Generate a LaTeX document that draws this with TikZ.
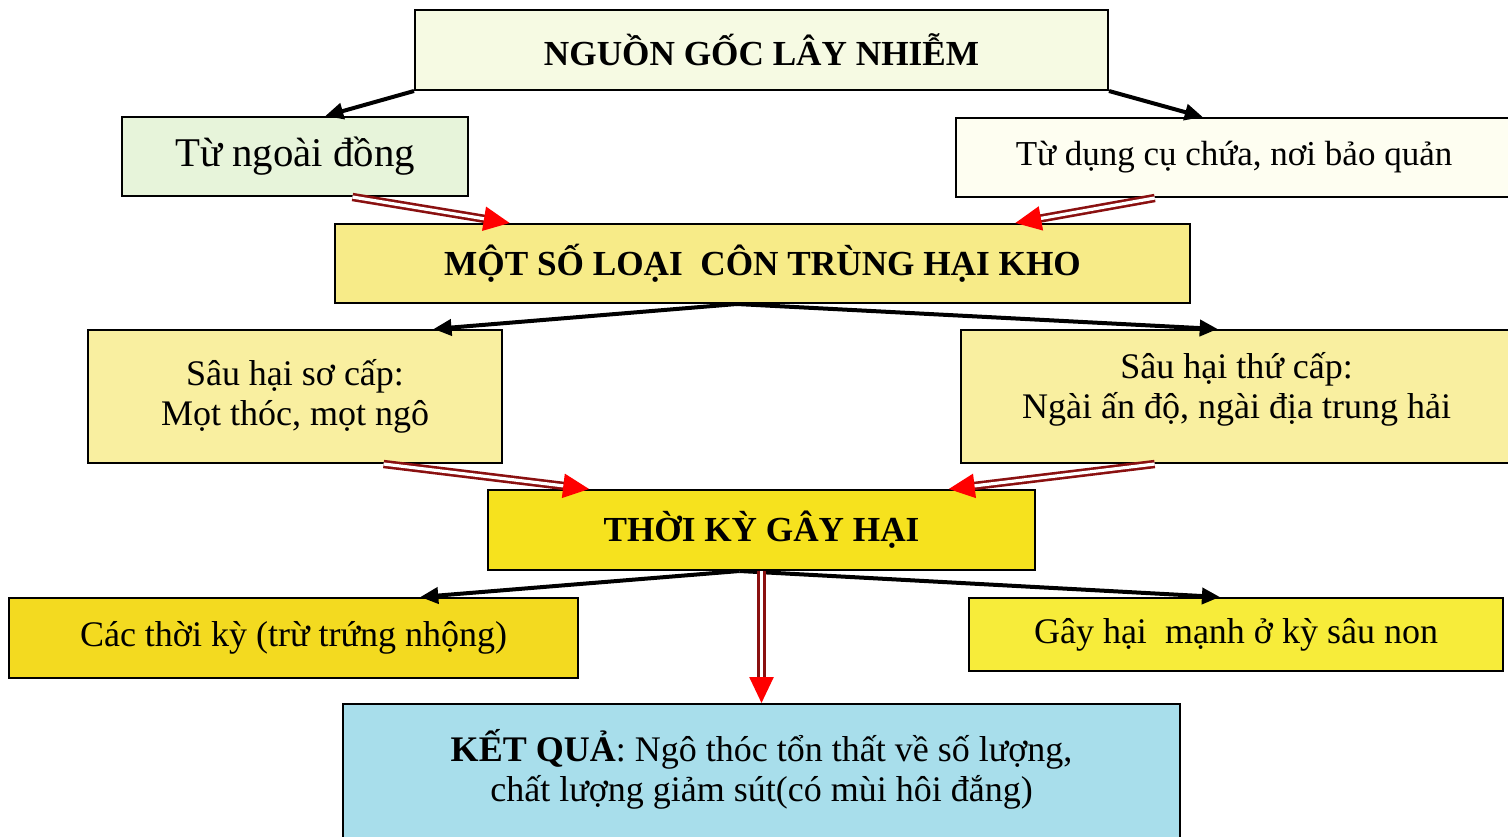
\documentclass[tikz,border=0pt]{standalone}
\usepackage{fontspec}
\setmainfont{Liberation Serif}
\usetikzlibrary{arrows.meta, calc}
\definecolor{srcbg}{HTML}{F6FAE3}
\definecolor{fieldbg}{HTML}{E7F4DA}
\definecolor{storebg}{HTML}{FEFEF1}
\definecolor{insectbg}{HTML}{F7EB88}
\definecolor{pestbg}{HTML}{F9EFA0}
\definecolor{periodbg}{HTML}{F6E21E}
\definecolor{stagebg}{HTML}{F3DA20}
\definecolor{strongbg}{HTML}{F7EC3A}
\definecolor{resultbg}{HTML}{A8DEEB}
\definecolor{darkred}{HTML}{8A1010}

\begin{document}
\begin{tikzpicture}[
    x=0.5pt, y=-0.5pt,
    every node/.style={font=\fontsize{18}{20}\selectfont},
    n/.style={draw, line width=1pt, inner sep=0pt, align=center},
    hd/.style={font=\fontsize{17.6}{20}\selectfont\bfseries},
    blk/.style={-{Triangle[length=9pt, width=8pt]}, line width=2pt},
    dbl/.style={-{Triangle[length=13pt, width=12pt, fill=red, color=red]},
        draw=darkred, line width=1.3pt, double=white, double distance=1.6pt}
]
    \useasboundingbox (0,0) rectangle (1508,836);

    % ===== nguon goc =====
    \node[n, hd, fill=srcbg, minimum width=346.5pt, minimum height=40pt] (src) at (761.5, 50) {NGUỒN GỐC LÂY NHIỄM};
    \node[n, fill=fieldbg, minimum width=173pt, minimum height=39.5pt, font=\fontsize{20.4}{22}\selectfont] (field) at (295, 156.5) {Từ ngoài đồng};
    \node[n, fill=storebg, minimum width=278pt, minimum height=39.5pt, font=\fontsize{17.5}{20}\selectfont] (store) at (1234, 157.5) {Từ dụng cụ chứa, nơi bảo quản};
    \draw[blk] (src.south west) -- ($(field.north west)!0.587!(field.north east)$);
    \draw[blk] (src.south east) -- ($(store.north west)!0.444!(store.north east)$);

    % ===== con trung =====
    \node[n, hd, fill=insectbg, minimum width=427.5pt, minimum height=39.5pt] (ins) at (762.5, 263.5) {MỘT SỐ LOẠI\ \ CÔN TRÙNG HẠI KHO};
    \draw[dbl] ($(field.south west)!0.665!(field.south east)$) -- ($(ins.north west)!0.205!(ins.north east)$);
    \draw[dbl] ($(store.south west)!0.358!(store.south east)$) -- ($(ins.north west)!0.795!(ins.north east)$);

    \node[n, fill=pestbg, minimum width=207pt, minimum height=66.5pt] (pri) at (295, 396.5) {Sâu hại sơ cấp:\\ Mọt thóc, mọt ngô};
    \node[n, fill=pestbg, minimum width=275.5pt, minimum height=66.5pt] (sec) at (1236.5, 396.5) {Sâu hại thứ cấp:\\ Ngài ấn độ, ngài địa trung hải\rule[-11pt]{0pt}{0pt}};
    \draw[blk] ($(ins.south west)!0.47!(ins.south east)$) -- ($(pri.north west)!0.833!(pri.north east)$);
    \draw[blk] ($(ins.south west)!0.47!(ins.south east)$) -- ($(sec.north west)!0.466!(sec.north east)$);

    % ===== thoi ky gay hai =====
    \node[n, hd, fill=periodbg, minimum width=273.5pt, minimum height=40pt] (per) at (761.5, 530) {THỜI KỲ GÂY HẠI};
    \draw[dbl] ($(pri.south west)!0.713!(pri.south east)$) -- ($(per.north west)!0.186!(per.north east)$);
    \draw[dbl] ($(sec.south west)!0.352!(sec.south east)$) -- ($(per.north west)!0.841!(per.north east)$);

    \node[n, fill=stagebg, minimum width=284.5pt, minimum height=40pt] (stg) at (293.5, 638) {Các thời kỳ (trừ trứng nhộng)};
    \node[n, fill=strongbg, minimum width=267pt, minimum height=36.5pt] (str) at (1236, 634.5) {Gây hại\ \ mạnh ở kỳ sâu non};
    \draw[blk] ($(per.south west)!0.46!(per.south east)$) -- ($(stg.north west)!0.722!(stg.north east)$);
    \draw[blk] ($(per.south west)!0.46!(per.south east)$) -- ($(str.north west)!0.47!(str.north east)$);

    % ===== ket qua =====
    \node[n, fill=resultbg, minimum width=418.5pt, minimum height=68pt] (res) at (761.5, 772) {\textbf{KẾT QUẢ}: Ngô thóc tổn thất về số lượng,\\ chất lượng giảm sút(có mùi hôi đắng)\rule[-7pt]{0pt}{0pt}};
    \draw[dbl] (per.south) -- (res.north);
\end{tikzpicture}
\end{document}
